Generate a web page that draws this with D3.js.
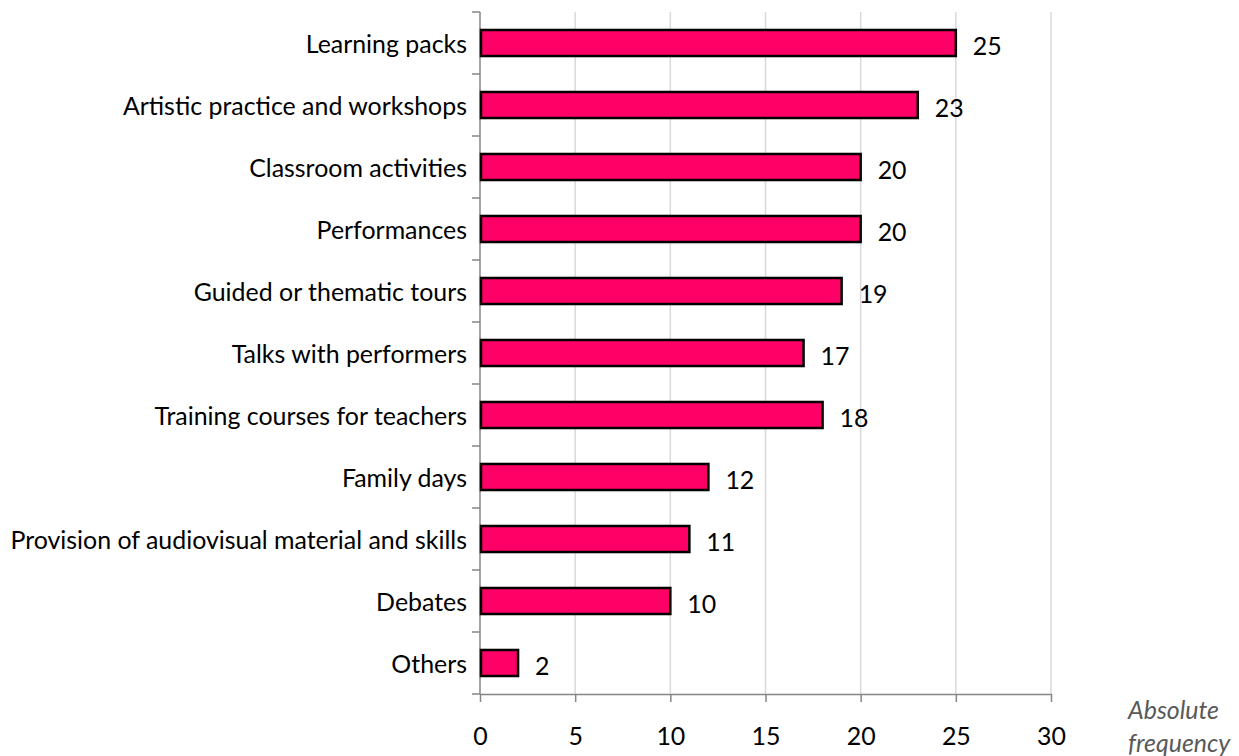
<!DOCTYPE html>
<html>
<head>
<meta charset="utf-8">
<script src="https://cdn.jsdelivr.net/npm/d3@7"></script>
<style>
  html, body { margin: 0; padding: 0; background: #fff; }
  svg { display: block; }
  text { font-family: Lato, "Open Sans", sans-serif; fill: #000; }
</style>
</head>
<body>
<svg id="chart" width="1239" height="756"></svg>
<script>
// Activities offered, top to bottom
const categories = [
  "Learning packs",
  "Artistic practice and workshops",
  "Classroom activities",
  "Performances",
  "Guided or thematic tours",
  "Talks with performers",
  "Training courses for teachers",
  "Family days",
  "Provision of audiovisual material and skills",
  "Debates",
  "Others"
];
const values = [25, 23, 20, 20, 19, 17, 18, 12, 11, 10, 2];
const xTicks = [0, 5, 10, 15, 20, 25, 30];
const axisTitle = ["Absolute", "frequency"];

const svg = d3.select("#chart");
const plotLeft = 480, plotRight = 1051, plotTop = 12, plotBottom = 694;

const x = d3.scaleLinear().domain([0, 30]).range([plotLeft, plotRight]);
const y = d3.scaleBand().domain(categories).range([plotTop, plotBottom]).paddingInner(0.58).paddingOuter(0.29);

// Fit the font size so the longest category label spans its slot
const probe = svg.append("text").attr("font-size", 20)
  .text(categories.reduce((a, b) => (a.length > b.length ? a : b)));
const fs = 20 * 457 / probe.node().getComputedTextLength();
probe.remove();

// Vertical gridlines
svg.append("g").selectAll("line").data(xTicks.filter(d => d > 0)).join("line")
  .attr("x1", d => x(d)).attr("x2", d => x(d))
  .attr("y1", plotTop).attr("y2", plotBottom)
  .attr("stroke", "#d9d9d9").attr("stroke-width", 1.5);

// Bottom axis
const xAxis = svg.append("g").attr("transform", `translate(0,${plotBottom})`)
  .call(d3.axisBottom(x).tickValues(xTicks).tickSize(8).tickPadding(25).tickSizeOuter(0));
xAxis.select(".domain").attr("stroke", "#868686").attr("stroke-width", 1.5);
xAxis.selectAll(".tick line").attr("stroke", "#868686").attr("stroke-width", 1.5);
xAxis.selectAll(".tick text").attr("font-size", fs).attr("font-family", "Lato, 'Open Sans', sans-serif").attr("fill", "#000");

// Left axis with ticks on band boundaries
const yG = svg.append("g");
yG.append("line").attr("x1", plotLeft).attr("x2", plotLeft).attr("y1", plotTop).attr("y2", plotBottom)
  .attr("stroke", "#868686").attr("stroke-width", 1.5);
const bounds = d3.range(categories.length + 1).map(i => plotTop + i * (plotBottom - plotTop) / categories.length);
yG.selectAll("line.tk").data(bounds).join("line").attr("class", "tk")
  .attr("x1", plotLeft - 8).attr("x2", plotLeft).attr("y1", d => d).attr("y2", d => d)
  .attr("stroke", "#868686").attr("stroke-width", 1.5);

// Category labels
svg.append("g").selectAll("text").data(categories).join("text")
  .attr("x", 467)
  .attr("y", d => y(d) + y.bandwidth() / 2)
  .attr("text-anchor", "end")
  .attr("dominant-baseline", "central")
  .attr("font-size", fs)
  .text(d => d);

// Bars
svg.append("g").selectAll("rect").data(values).join("rect")
  .attr("x", x(0) + 1)
  .attr("y", (d, i) => y(categories[i]))
  .attr("width", d => x(d) - x(0) - 1)
  .attr("height", y.bandwidth())
  .attr("fill", "#ff0066")
  .attr("stroke", "#000")
  .attr("stroke-width", 2.5);

// Value labels
svg.append("g").selectAll("text").data(values).join("text")
  .attr("x", d => x(d) + 17)
  .attr("y", (d, i) => y(categories[i]) + y.bandwidth() / 2 + 2)
  .attr("dominant-baseline", "central")
  .attr("font-size", fs)
  .text(d => d);

// Axis title
svg.append("text")
  .attr("x", 1128).attr("y", 709)
  .attr("font-size", fs).attr("font-style", "italic")
  .style("fill", "#595959")
  .attr("dominant-baseline", "central")
  .selectAll("tspan").data(axisTitle).join("tspan")
  .attr("x", 1128).attr("dy", (d, i) => i === 0 ? 0 : 33)
  .text(d => d);
</script>
</body>
</html>
